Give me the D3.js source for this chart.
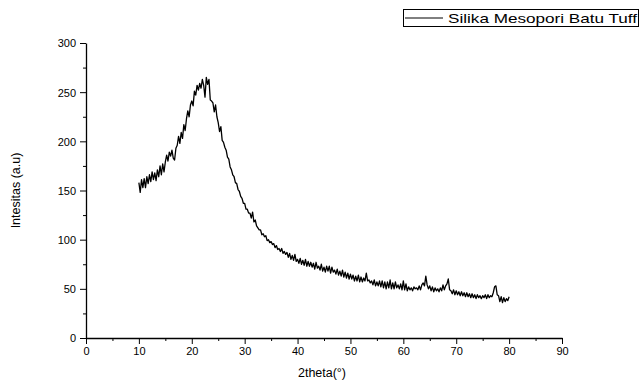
<!DOCTYPE html>
<html>
<head>
<meta charset="utf-8">
<script src="https://cdn.jsdelivr.net/npm/d3@7"></script>
<style>
  body { margin: 0; background: #fff; }
  svg text { font-family: "Liberation Sans", Arial, sans-serif; fill: #000; }
</style>
</head>
<body>
<svg id="chart" width="640" height="383"></svg>
<script>
// 2theta start / step of the scan (at 0.25 deg)
const thetaStart = 10;
const thetaStep = 0.25;
// intensity readings, 4 per degree from 10 to 80
const intensity = [
  158, 148, 161, 153,  162, 153, 164, 157,  166, 159, 169, 161,  168, 160, 171, 164,
  175, 166, 177, 169,  179, 186, 180, 189,  185, 191, 183, 181,  193, 196, 205, 198,
  209, 203, 217, 211,  223, 231, 225, 237,  241, 236, 251, 247,  257, 252, 259, 254,
  263, 257, 245, 265,  258, 263, 242, 241,  239, 230, 237, 225,  219, 210, 215, 201,
  199, 194, 191, 184,  182, 174, 171, 166,  164, 158, 157, 151,  149, 144, 142, 137,
  137, 131, 131, 127,  127, 122, 128, 118,  120, 114, 112, 110,  110, 105, 106, 103,
  104, 99, 100, 97,    98, 95, 96, 92,     94, 90, 91, 88,      91, 86, 88, 85,
  87, 82, 86, 80,      84, 79, 85, 78,     80, 76, 81, 75,      79, 74, 80, 73,
  78, 73, 77, 72,      76, 70, 77, 71,     73, 69, 75, 68,      72, 67, 73, 68,
  73, 66, 72, 67,      69, 65, 70, 64,     68, 63, 69, 62,      67, 61, 66, 60,
  65, 60, 64, 58,      63, 58, 64, 57,     62, 57, 61, 58,      66, 58, 59, 56,
  58, 54, 59, 53,      57, 53, 58, 52,     58, 51, 57, 50,      57, 51, 59, 50,
  56, 50, 57, 51,      54, 50, 55, 49,     58, 49, 55, 48,      52, 49, 51, 48,
  52, 50, 51, 49,      53, 49, 54, 56,     53, 63, 54, 50,      53, 48, 52, 47,
  51, 48, 50, 47,      51, 48, 54, 49,     53, 55, 60, 49,      48, 45, 49, 44,
  48, 44, 47, 43,      47, 43, 46, 42,     46, 42, 45, 41,      45, 41, 44, 40,
  44, 41, 43, 40,      43, 41, 44, 40,     44, 41, 43, 42,      46, 52, 53, 44,
  43, 37, 42, 36,      41, 37, 40, 38,     42
];
const xTicks = [0, 10, 20, 30, 40, 50, 60, 70, 80, 90];
const yTicks = [0, 50, 100, 150, 200, 250, 300];
const seriesName = "Silika Mesopori Batu Tuff";

const MarginLeft = 86, MarginRight = 78, MarginTop = 43, MarginBottom = 45;
const Width = 640, Height = 383;

const Data = intensity.map((v, i) => ({ theta: thetaStart + i * thetaStep, y: v }));

const X = d3.scaleLinear().domain([0, 90]).range([MarginLeft, Width - MarginRight]);
const Y = d3.scaleLinear().domain([0, 300]).range([Height - MarginBottom, MarginTop]);

const SVG = d3.select("#chart");

// minor ticks first, majors on top
SVG.append("g")
  .attr("transform", `translate(0,${Height - MarginBottom})`)
  .call(d3.axisBottom(X).tickValues(d3.range(5, 90, 10)).tickSize(3).tickFormat(""))
  .call(g => g.select(".domain").remove());
SVG.append("g")
  .attr("transform", `translate(${MarginLeft},0)`)
  .call(d3.axisLeft(Y).tickValues(d3.range(25, 300, 50)).tickSize(3).tickFormat(""))
  .call(g => g.select(".domain").remove());

const XAxis = SVG.append("g")
  .attr("transform", `translate(0,${Height - MarginBottom})`)
  .call(d3.axisBottom(X).tickValues(xTicks).tickSize(6).tickSizeOuter(0).tickPadding(3));
XAxis.selectAll("text").style("font-size", "11px");

const YAxis = SVG.append("g")
  .attr("transform", `translate(${MarginLeft},0)`)
  .call(d3.axisLeft(Y).tickValues(yTicks).tickSize(6).tickSizeOuter(0).tickPadding(4));
YAxis.selectAll("text").style("font-size", "11px").attr("dy", "0.36em");

SVG.selectAll(".domain").attr("stroke-width", 1.3);

// axis titles
SVG.append("text")
  .attr("x", X(45) - 2).attr("y", 377)
  .attr("text-anchor", "middle")
  .style("font-size", "12.5px")
  .text("2theta(°)");
SVG.append("text")
  .attr("transform", `translate(20,${Y(150)}) rotate(-90)`)
  .attr("text-anchor", "middle")
  .style("font-size", "12.5px")
  .text("Intesitas (a.u)");

// pattern
SVG.append("path")
  .datum(Data)
  .attr("fill", "none")
  .attr("stroke", "#000")
  .attr("stroke-width", 1.3)
  .attr("stroke-linejoin", "round")
  .attr("d", d3.line().x(d => X(d.theta)).y(d => Y(d.y)));

// legend
const Legend = SVG.append("g");
Legend.append("rect")
  .attr("x", 403.5).attr("y", 9.5).attr("width", 235).attr("height", 17)
  .attr("fill", "#fff").attr("stroke", "#000").attr("stroke-width", 1);
Legend.append("line")
  .attr("x1", 405).attr("x2", 443).attr("y1", 18).attr("y2", 18)
  .attr("stroke", "#000").attr("stroke-width", 1);
Legend.append("text")
  .attr("x", 448).attr("y", 22.5)
  .style("font-size", "13px")
  .attr("textLength", 189).attr("lengthAdjust", "spacingAndGlyphs")
  .text(seriesName);
</script>
</body>
</html>
